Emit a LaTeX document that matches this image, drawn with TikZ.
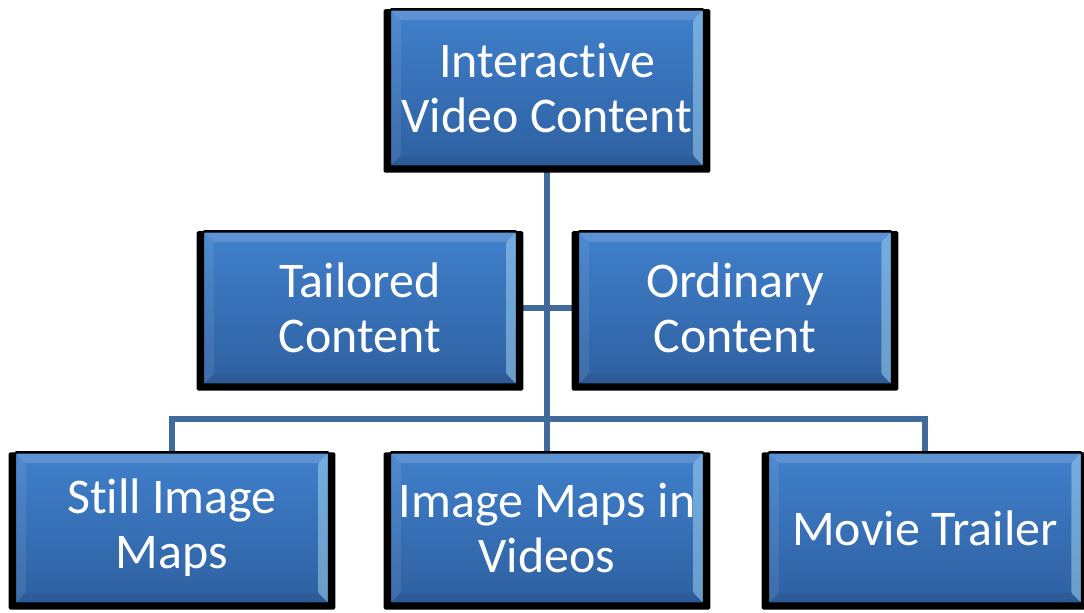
\documentclass[tikz,border=0pt]{standalone}
\usepackage{fontspec}
\setmainfont{Carlito}[Ligatures=NoCommon]
\usetikzlibrary{shadows, calc, backgrounds}

\definecolor{boxtop}{RGB}{64,128,204}
\definecolor{boxbottom}{RGB}{46,96,160}
\definecolor{linkblue}{RGB}{63,106,153}

\begin{document}
\begin{tikzpicture}[x=0.025cm, y=-0.025cm, line join=round,
    topicbox/.style={rectangle, rounded corners=1pt, draw=black, line width=0.06cm,
        top color=boxtop, bottom color=boxbottom,
        general shadow={fill=black, shadow scale=1.04, shadow yshift=-0.07cm},
        minimum width=7.85cm, minimum height=3.83cm, inner sep=0pt,
        text=white, align=center, font=\fontsize{35.5}{39}\selectfont,
        path picture={
            \path (path picture bounding box.north west) coordinate (pnw)
                  (path picture bounding box.south east) coordinate (pse);
            \coordinate (pne) at (pnw -| pse);
            \coordinate (psw) at (pnw |- pse);
            \coordinate (inw) at ($(pnw)+(0.27cm,-0.27cm)$);
            \coordinate (ine) at ($(pne)+(-0.27cm,-0.27cm)$);
            \coordinate (ise) at ($(pse)+(-0.27cm,0.27cm)$);
            \coordinate (isw) at ($(psw)+(0.27cm,0.27cm)$);
            % bevel
            \fill[white, opacity=0.16] (pnw) -- (pne) -- (ine) -- (inw) -- cycle;
            \fill[white, opacity=0.08] (pnw) -- (inw) -- (isw) -- (psw) -- cycle;
            \fill[cyan!30!white, opacity=0.45] (pne) -- (pse) -- (ise) -- (ine) -- cycle;
            \fill[black, opacity=0.06] (psw) -- (isw) -- (ise) -- (pse) -- cycle;
        }},
    link/.style={draw=linkblue, line width=0.15cm}]

    \useasboundingbox (0,0) rectangle (1084,612);

    % Cajas
    \node[topicbox, minimum height=3.93cm] (interactive) at (547,88) {Interactive\\Video Content};

    \node[topicbox] (tailored) at (360,308) {Tailored\\Content};
    \node[topicbox] (ordinary) at (735,308) {Ordinary\\Content};

    \node[topicbox, minimum height=3.78cm] (still) at (172,528) {Still Image\\Maps};
    \node[topicbox, minimum height=3.78cm] (imagemaps) at (547,528) {Image Maps in\\Videos};
    \node[topicbox, minimum height=3.78cm] (trailer) at (925,528) {Movie Trailer};

    % Conexiones
    \coordinate (bus) at (547,419);
    \begin{scope}[on background layer]
        \draw[link] (interactive.south) -- (bus);
        \draw[link] (tailored.east) -- (ordinary.west);
        \draw[link] (still.north) |- (bus) -| (trailer.north);
        \draw[link] (bus) -- (imagemaps.north);
    \end{scope}

\end{tikzpicture}
\end{document}
